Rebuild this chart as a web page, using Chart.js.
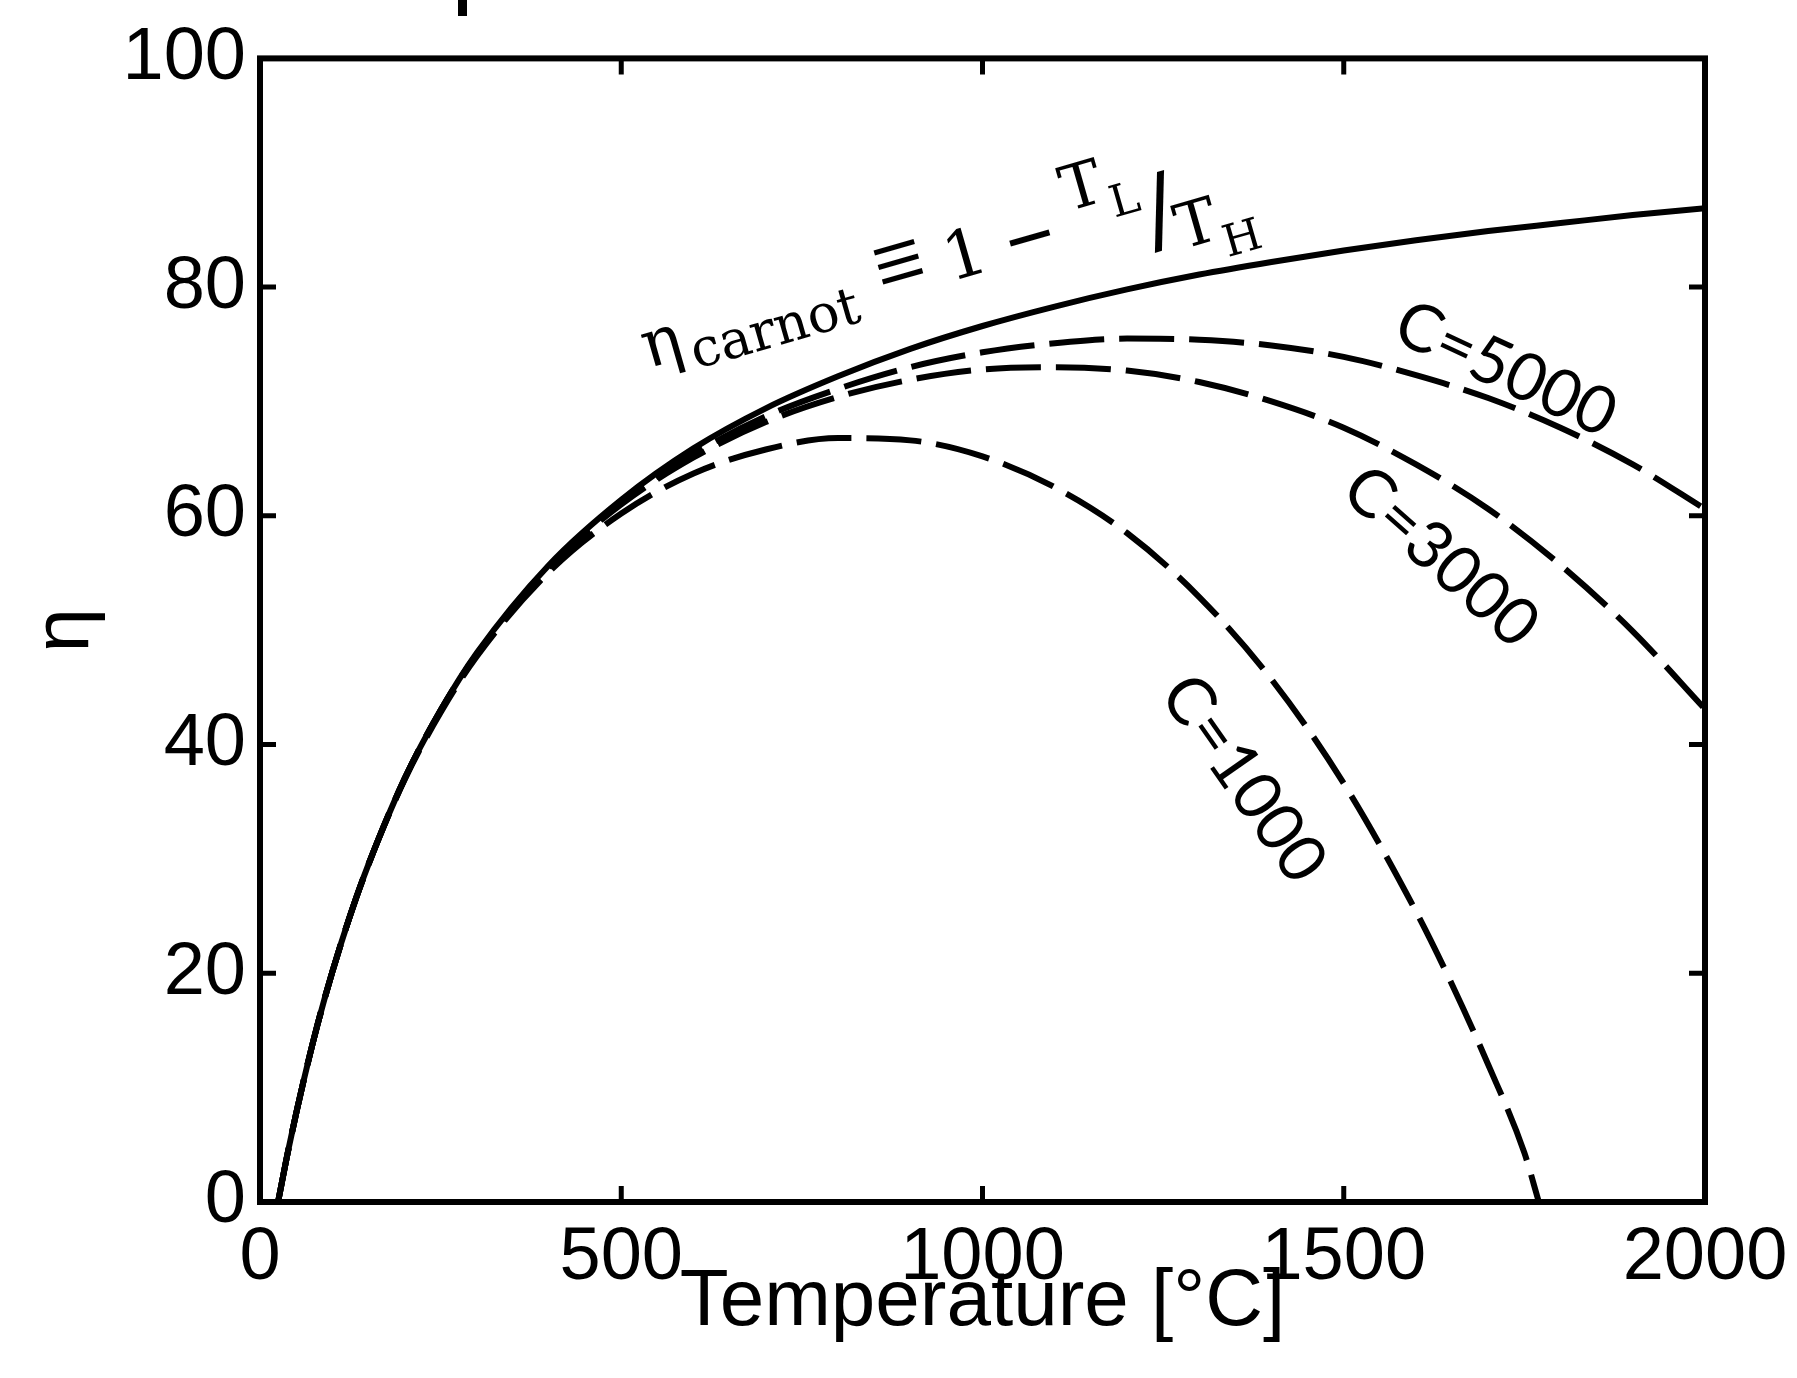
<!DOCTYPE html>
<html>
<head>
<meta charset="utf-8">
<script src="https://cdn.jsdelivr.net/npm/chart.js@4.4.1/dist/chart.umd.min.js"></script>
<style>
  body { margin: 0; background: #fff; }
  canvas { display: block; }
</style>
</head>
<body>
<canvas id="graph_canvas" width="1797" height="1378"></canvas>
<script>
const ctx = document.getElementById('graph_canvas');

// temperatures [°C]
const temps = [25, 40, 60, 80, 100, 125, 150, 200, 250, 300, 400, 500, 600, 700, 800,
  900, 1000, 1100, 1200, 1300, 1400, 1500, 1600, 1700, 1800, 1900, 2000];
const carnot = [0, 4.8, 10.5, 15.6, 20.1, 25.1, 29.5, 37.0, 43.0, 48.0, 55.7, 61.4, 65.9, 69.4, 72.2,
  74.6, 76.6, 78.3, 79.8, 81.1, 82.2, 83.2, 84.1, 84.9, 85.6, 86.3, 86.9];
const c5000 = [0, 4.8, 10.5, 15.6, 20.1, 25.1, 29.5, 37.0, 43.0, 47.9, 55.6, 61.2, 65.4, 68.7, 71.1,
  73.0, 74.3, 75.1, 75.5, 75.4, 74.9, 73.9, 72.3, 70.3, 67.7, 64.5, 60.6];
const c3000 = [0, 4.8, 10.5, 15.6, 20.1, 25.1, 29.5, 37.0, 43.0, 47.9, 55.5, 61.0, 65.1, 68.2, 70.4,
  71.9, 72.8, 73.0, 72.7, 71.7, 70.0, 67.7, 64.5, 60.6, 55.7, 49.9, 43.1];
// C=1000 hits zero before 2000
const temps1000 = [25, 40, 60, 80, 100, 125, 150, 200, 250, 300, 400, 500, 600, 700, 800,
  900, 1000, 1100, 1200, 1300, 1400, 1500, 1600, 1650, 1700, 1750, 1770];
const c1000 = [0, 4.8, 10.5, 15.6, 20.1, 25.1, 29.5, 36.9, 42.8, 47.7, 55.1, 60.2, 63.7, 65.8, 66.8,
  66.6, 65.2, 62.5, 58.5, 52.9, 45.7, 36.6, 25.4, 19.0, 12.0, 4.3, 0];

const xTicks = [0, 500, 1000, 1500, 2000];
const yTicks = [0, 20, 40, 60, 80, 100];

const curveLabels = [
  {text: 'C=5000', x: 1724, y: 72.8, angle: 25},
  {text: 'C=3000', x: 1634, y: 56.4, angle: 41.7},
  {text: 'C=1000', x: 1361, y: 37.0, angle: 55}
];

function pts(xs, ys) {
  return xs.map((t, i) => ({x: t, y: ys[i]}));
}

const DASH = [55, 15];

const data = {
  datasets: [{
    label: 'Carnot',
    data: pts(temps, carnot),
    borderColor: '#000',
    borderWidth: 6
  },
  {
    label: 'C=5000',
    data: pts(temps, c5000),
    borderColor: '#000',
    borderWidth: 6,
    borderDash: DASH
  },
  {
    label: 'C=3000',
    data: pts(temps, c3000),
    borderColor: '#000',
    borderWidth: 6,
    borderDash: DASH
  },
  {
    label: 'C=1000',
    data: pts(temps1000, c1000),
    borderColor: '#000',
    borderWidth: 6,
    borderDash: DASH
  }]
};

// box round the plot plus inward ticks on all four sides
const frameTicks = {
  id: 'frameTicks',
  afterDatasetsDraw(chart) {
    const c = chart.ctx;
    const a = chart.chartArea;
    const x = chart.scales.x, y = chart.scales.y;
    c.save();
    c.strokeStyle = '#000';
    c.lineWidth = 5;
    c.beginPath();
    xTicks.forEach(v => {
      const px = x.getPixelForValue(v);
      c.moveTo(px, a.bottom); c.lineTo(px, a.bottom - 16);
      c.moveTo(px, a.top); c.lineTo(px, a.top + 16);
    });
    yTicks.forEach(v => {
      const py = y.getPixelForValue(v);
      c.moveTo(a.left, py); c.lineTo(a.left + 16, py);
      c.moveTo(a.right, py); c.lineTo(a.right - 16, py);
    });
    c.stroke();
    c.lineWidth = 6;
    c.strokeRect(a.left, a.top, a.right - a.left, a.bottom - a.top);
    // bit of a cut-off title glyph at the very top
    c.fillStyle = '#000';
    c.fillRect(458, 0, 9, 16);
    c.restore();
  }
};

const annotations = {
  id: 'annotations',
  afterDraw(chart) {
    const c = chart.ctx;
    const x = chart.scales.x, y = chart.scales.y;
    c.save();
    c.fillStyle = '#000';
    c.font = "66px Lato, 'Open Sans', sans-serif";
    c.textAlign = 'center';
    c.textBaseline = 'middle';
    curveLabels.forEach(l => {
      c.save();
      c.translate(x.getPixelForValue(l.x), y.getPixelForValue(l.y));
      c.rotate(l.angle * Math.PI / 180);
      c.fillText(l.text, 0, 0);
      c.restore();
    });

    // eta_carnot = 1 - T_L / T_H, laid out along a tilted baseline
    const serif = "'DejaVu Serif', serif";
    c.translate(x.getPixelForValue(537), y.getPixelForValue(72.9));
    c.rotate(-16 * Math.PI / 180);
    c.textAlign = 'left';
    c.textBaseline = 'alphabetic';
    const parts = [
      ['η', 66, 0, 0],
      ['carnot', 53, 46, 14],
      ['1', 66, 315, 0],
      ['T', 62, 446, -35],
      ['L', 44, 490, -16],
      ['/', 94, 519, 20],
      ['T', 62, 546, 33],
      ['H', 44, 588, 53]
    ];
    parts.forEach(p => {
      c.font = p[1] + 'px ' + serif;
      c.fillText(p[0], p[2], p[3]);
    });
    // the two operators, squeezed to the widths seen in the picture
    c.textAlign = 'center';
    c.textBaseline = 'middle';
    [['≡', "105px 'Liberation Serif', serif", 0.85, 270, -26],
     ['−', "76px 'DejaVu Serif', serif", 0.86, 403, -16]].forEach(p => {
      c.save();
      c.translate(p[3], p[4]);
      c.scale(p[2], 1);
      c.font = p[1];
      c.fillText(p[0], 0, 0);
      c.restore();
    });
    c.restore();
  }
};

const tickFont = {family: "'Liberation Sans', Arial, sans-serif", size: 74};

const config = {
  type: 'line',
  data: data,
  options: {
    responsive: false,
    animation: false,
    devicePixelRatio: 1,
    layout: {padding: {top: 55, right: 92, left: 0, bottom: 0}},
    elements: {
      point: {radius: 0},
      line: {cubicInterpolationMode: 'monotone', borderCapStyle: 'butt'}
    },
    plugins: {legend: {display: false}, tooltip: {enabled: false}},
    scales: {
      x: {
        type: 'linear',
        min: 0,
        max: 2000,
        afterFit: s => { s.height = 176; s.paddingLeft = 0; s.paddingRight = 0; },
        afterBuildTicks: s => { s.ticks = xTicks.map(v => ({value: v})); },
        grid: {display: false, drawTicks: false},
        border: {display: false},
        ticks: {color: '#000', font: tickFont, padding: 12, maxRotation: 0,
          callback: v => String(v)},
        title: {
          display: true,
          text: 'Temperature [°C]',
          color: '#000',
          font: {family: "'Liberation Sans', Arial, sans-serif", size: 80, lineHeight: 1},
          padding: {top: 0, bottom: 35}
        }
      },
      y: {
        type: 'linear',
        min: 0,
        max: 100,
        afterFit: s => { s.width = 260; },
        afterBuildTicks: s => { s.ticks = yTicks.map(v => ({value: v})); },
        grid: {display: false, drawTicks: false},
        border: {display: false},
        ticks: {color: '#000', font: tickFont, padding: 14, callback: v => String(v)},
        title: {
          display: true,
          text: 'η',
          color: '#000',
          font: {family: "'Liberation Sans', Arial, sans-serif", size: 80, lineHeight: 1},
          padding: {top: 26, bottom: 0}
        }
      }
    }
  },
  plugins: [frameTicks, annotations]
};

var myChart = new Chart(ctx, config);
</script>
</body>
</html>
